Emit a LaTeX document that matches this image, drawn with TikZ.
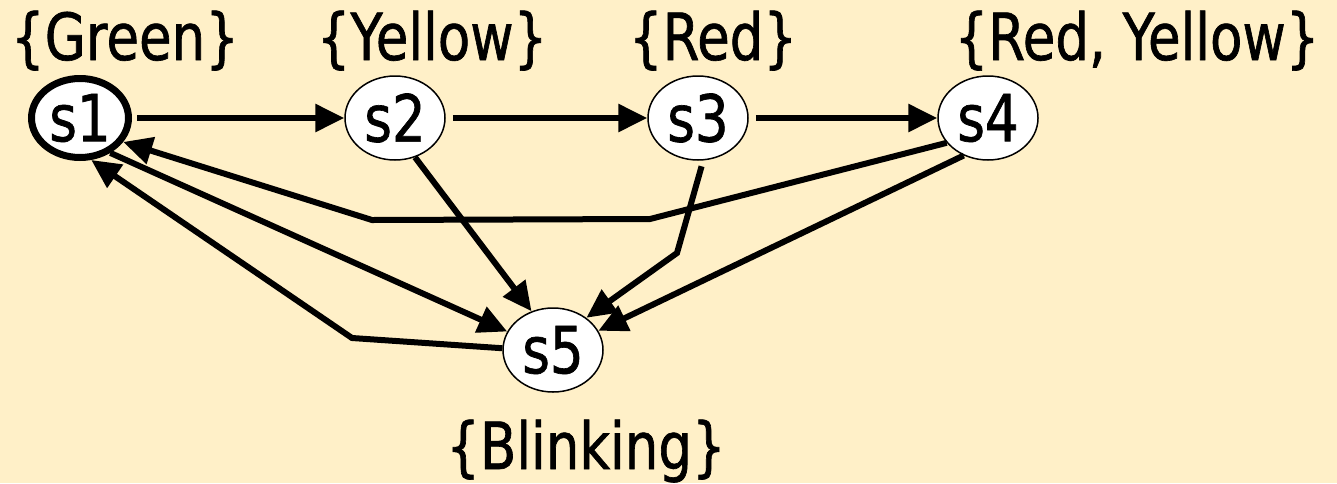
\documentclass[tikz,border=0pt]{standalone}
\usepackage{fontspec}
\setmainfont{DejaVu Sans}[FakeStretch=0.815,FakeBold=1]
\usetikzlibrary{shapes.geometric,arrows.meta}
\definecolor{bg}{RGB}{255,240,200}
\begin{document}
\begin{tikzpicture}[x=1pt,y=-1pt,
  every node/.style={font=\fontsize{65}{78}\selectfont},
  state/.style={ellipse, draw, fill=white, minimum width=100pt, minimum height=84pt, inner sep=0pt, line width=1.5pt},
  init/.style={state, line width=7pt, minimum width=97pt, minimum height=79pt},
  edge/.style={line width=6pt, -{Triangle[length=29pt,width=27pt]}},
  lab/.style={anchor=base, inner sep=0pt}]
\fill[bg] (0,0) rectangle (1337,483);
\useasboundingbox (0,0) rectangle (1337,483);
% nodes
\node[init]  (s1) at (80,118)  {s1};
\node[state] (s2) at (395,118) {s2};
\node[state] (s3) at (698,118) {s3};
\node[state] (s4) at (988,118) {s4};
\node[state] (s5) at (553,350) {s5};
% labels
\node[lab] (l1) at (125,60)  {\{Green\}};
\node[lab] (l2) at (432,60)  {\{Yellow\}};
\node[lab] (l3) at (713,60)  {\{Red\}};
\node[lab] (l4) at (1137,60) {\{Red, Yellow\}};
\node[lab] (l5) at (586,469) {\{Blinking\}};
% bend points
\coordinate (b41a) at (650,219);
\coordinate (b41b) at (372,220);
\coordinate (b51)  at (352,338);
\coordinate (b35)  at (677,253);
% edges
\draw[edge, shorten <=5pt] (s1) -- (s2);
\draw[edge, shorten <=7pt] (s2) -- (s3);
\draw[edge, shorten <=7pt] (s3) -- (s4);
\draw[edge] (s4.211) -- (b41a) -- (b41b) -- (s1.331);
\draw[edge] (s1.311) -- (s5.158);
\draw[edge] (s5.178) -- (b51) -- (s1.285);
\draw[edge] (s2.297) -- (s5.119);
\draw[edge, shorten <=6pt] (s3.277) -- (b35) -- (s5.44);
\draw[edge] (s4.237) -- (s5.23);
\end{tikzpicture}
\end{document}
